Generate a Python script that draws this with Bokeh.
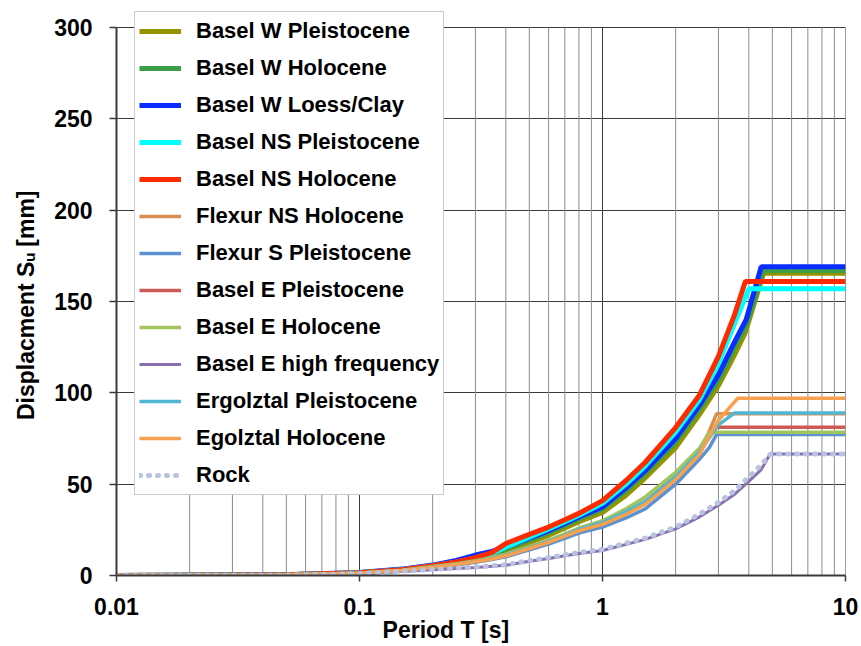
from bokeh.plotting import figure
from bokeh.models import FixedTicker, CustomJSTickFormatter, Legend
from bokeh.embed import file_html
from bokeh.resources import INLINE

# ---------------- data ----------------
T_MAIN = [0.01, 0.05, 0.1, 0.15, 0.2, 0.25, 0.3, 0.35, 0.4, 0.5, 0.6, 0.7, 0.8, 1.0, 1.25, 1.5, 2.0, 2.5, 3.0, 3.5]
T_LOW = [0.01, 0.05, 0.1, 0.15, 0.2, 0.25, 0.3, 0.35, 0.4, 0.5, 0.6, 0.7, 0.8, 1.0, 1.25, 1.5, 2.0, 2.5]
T_ROCK = [0.01, 0.05, 0.1, 0.2, 0.3, 0.4, 0.5, 0.6, 0.7, 0.8, 1.0, 1.5, 2.0, 2.5, 3.0, 3.5, 4.0, 4.5, 4.9, 10]

basel_w_pleist_T = T_MAIN + [3.87, 4.6, 10]
basel_w_pleist_S = [0.05, 0.4, 1.4, 3.0, 5.0, 6.9, 9.0, 11.0, 13.0, 18.0, 22.0, 26.0, 29.5, 34.5, 44.0, 53.5, 70.0, 88.0, 104.0, 121.0, 133.0, 165.5, 165.5]
basel_w_holo_T = T_MAIN + [3.9, 4.6, 10]
basel_w_holo_S = [0.05, 0.4, 1.5, 3.3, 5.3, 7.5, 10.0, 12.0, 14.5, 19.5, 23.5, 27.5, 31.0, 36.5, 46.5, 56.0, 73.0, 91.0, 107.0, 125.0, 137.0, 167.0, 167.0]
basel_w_loess_T = T_MAIN + [3.9, 4.5, 10]
basel_w_loess_S = [0.05, 0.4, 1.6, 3.5, 5.7, 8.3, 11.2, 13.2, 15.5, 20.5, 24.5, 28.5, 32.0, 37.5, 48.0, 57.5, 75.0, 93.0, 110.0, 128.0, 140.0, 169.0, 169.0]
basel_ns_pleist_T = T_MAIN + [4.0, 10]
basel_ns_pleist_S = [0.05, 0.4, 1.5, 3.2, 5.3, 7.3, 9.6, 12.0, 15.5, 21.0, 25.5, 29.5, 33.0, 39.5, 50.0, 60.0, 78.5, 96.0, 116.0, 138.0, 157.0, 157.0]
basel_ns_holo_T = T_MAIN + [3.87, 10]
basel_ns_holo_S = [0.05, 0.4, 1.5, 3.2, 5.4, 7.4, 9.8, 12.5, 17.5, 22.5, 26.5, 30.5, 34.0, 41.0, 52.0, 62.0, 81.0, 98.5, 120.0, 143.0, 161.0, 161.0]

flexur_ns_holo_T = T_LOW + [2.77, 2.95, 10]
flexur_ns_holo_S = [0.05, 0.35, 1.3, 2.7, 4.6, 6.1, 7.7, 9.2, 11.0, 15.0, 18.5, 21.8, 24.8, 28.0, 34.0, 39.5, 53.0, 67.0, 80.0, 88.6, 88.6]
flexur_s_pleist_T = T_LOW + [2.75, 2.95, 10]
flexur_s_pleist_S = [0.05, 0.3, 1.2, 2.5, 4.3, 5.7, 7.2, 8.7, 10.2, 14.0, 17.2, 20.3, 23.2, 26.5, 31.5, 36.5, 50.0, 63.5, 70.0, 77.2, 77.2]
basel_e_pleist_T = T_LOW + [2.9, 10]
basel_e_pleist_S = [0.05, 0.35, 1.3, 2.7, 4.6, 6.1, 7.7, 9.2, 11.2, 15.0, 18.6, 21.9, 25.0, 28.5, 34.5, 40.5, 54.0, 67.0, 81.2, 81.2]
basel_e_holo_T = T_LOW + [2.75, 10]
basel_e_holo_S = [0.05, 0.35, 1.35, 2.9, 4.9, 6.4, 8.1, 9.7, 11.7, 15.8, 19.4, 22.8, 26.0, 30.0, 36.5, 43.0, 56.5, 69.5, 78.4, 78.4]
basel_e_hf_T = T_ROCK
basel_e_hf_S = [0.02, 0.2, 1.0, 3.2, 4.4, 5.6, 7.8, 9.3, 10.8, 12.0, 13.7, 19.8, 25.5, 32.0, 38.5, 44.5, 51.5, 58.0, 66.5, 66.5]
ergolztal_pleist_T = T_LOW + [3.0, 3.5, 10]
ergolztal_pleist_S = [0.05, 0.35, 1.3, 2.7, 4.6, 6.1, 7.7, 9.2, 11.2, 15.2, 18.7, 22.0, 25.2, 29.0, 35.0, 40.5, 54.0, 67.5, 82.5, 89.0, 89.0]
egolztal_holo_T = T_LOW + [2.75, 3.0, 3.6, 10]
egolztal_holo_S = [0.05, 0.35, 1.3, 2.7, 4.5, 6.0, 7.6, 9.0, 10.8, 14.8, 18.2, 21.5, 24.5, 28.0, 33.5, 39.0, 52.5, 66.0, 76.0, 85.0, 97.0, 97.0]
rock_T = T_ROCK
rock_S = [0.02, 0.2, 1.0, 3.3, 4.6, 5.9, 8.2, 9.8, 11.3, 12.6, 14.3, 20.5, 26.5, 33.5, 40.0, 46.5, 54.0, 60.5, 66.5, 66.5]

series_names = ["Basel W Pleistocene", "Basel W Holocene", "Basel W Loess/Clay",
                "Basel NS Pleistocene", "Basel NS Holocene", "Flexur NS Holocene",
                "Flexur S Pleistocene", "Basel E Pleistocene", "Basel E Holocene",
                "Basel E high frequency", "Ergolztal Pleistocene", "Egolztal Holocene", "Rock"]
series_T = [basel_w_pleist_T, basel_w_holo_T, basel_w_loess_T, basel_ns_pleist_T, basel_ns_holo_T,
            flexur_ns_holo_T, flexur_s_pleist_T, basel_e_pleist_T, basel_e_holo_T, basel_e_hf_T,
            ergolztal_pleist_T, egolztal_holo_T, rock_T]
series_S = [basel_w_pleist_S, basel_w_holo_S, basel_w_loess_S, basel_ns_pleist_S, basel_ns_holo_S,
            flexur_ns_holo_S, flexur_s_pleist_S, basel_e_pleist_S, basel_e_holo_S, basel_e_hf_S,
            ergolztal_pleist_S, egolztal_holo_S, rock_S]

x_major_ticks = [0.01, 0.1, 1, 10]
x_minor_ticks = [0.02, 0.03, 0.04, 0.05, 0.06, 0.07, 0.08, 0.09,
                 0.2, 0.3, 0.4, 0.5, 0.6, 0.7, 0.8, 0.9,
                 2, 3, 4, 5, 6, 7, 8, 9]
y_major_ticks = [0, 50, 100, 150, 200, 250, 300]
Y_MAX = 300

x_title = "Period T [s]"
y_title = "Displacment S\u1d64 [mm]"

# ---------------- styles / layout ----------------
colors = ["#949400", "#3d9e47", "#0a2cff", "#00ffff", "#ff2a00", "#d8904f",
          "#5b92cf", "#cc5a55", "#a2c65d", "#8a70b0", "#4fb6d3", "#f9a04f", "#b7c3e0"]
widths = [5, 5, 5, 5, 5, 3.5, 3.5, 3.5, 3.5, 3, 3.5, 3.5, 5]
FONT = "Liberation Sans"
NBSP = "\u00a0"

W, H = 861, 646
LEFT, TOP_FRAME, RIGHT, BOTTOM = 116, 9, 16, 71
PLOT_TOP = 27          # pixel row of the 300 line
frame_h = H - TOP_FRAME - BOTTOM
y_end = Y_MAX * frame_h / (frame_h - (PLOT_TOP - TOP_FRAME))

p = figure(width=W, height=H, x_axis_type="log", x_range=(0.01, 10), y_range=(0, y_end),
           output_backend="svg", toolbar_location=None,
           min_border_left=LEFT, min_border_top=TOP_FRAME, min_border_right=RIGHT,
           min_border_bottom=BOTTOM)
p.outline_line_color = None
p.background_fill_color = "white"
p.border_fill_color = "white"

xt = FixedTicker(ticks=x_major_ticks, minor_ticks=x_minor_ticks)
p.xaxis.ticker = xt
yt = FixedTicker(ticks=y_major_ticks)
p.yaxis.ticker = yt
p.ygrid.ticker = yt
p.yaxis.bounds = (0, Y_MAX)
p.xaxis.formatter = CustomJSTickFormatter(code="return tick.toString();")
p.xgrid.visible = False

for ax in (p.xaxis, p.yaxis):
    ax.axis_line_color = "#3a3a3a"
    ax.axis_line_width = 2
    ax.major_tick_line_color = "#3a3a3a"
    ax.major_tick_line_width = 1.5
    ax.major_tick_in = 0
    ax.minor_tick_line_color = None
    ax.major_label_text_font = FONT
    ax.major_label_text_font_style = "bold"
    ax.major_label_text_font_size = "23px"
    ax.major_label_text_color = "black"
    ax.axis_label_text_font = FONT
    ax.axis_label_text_font_style = "bold"
    ax.axis_label_text_font_size = "23px"
    ax.axis_label_text_color = "black"
p.xaxis.major_tick_out = 6
p.yaxis.major_tick_out = 7
p.xaxis.major_label_standoff = 16
p.yaxis.major_label_standoff = 17
p.xaxis.axis_label = x_title + NBSP * 11
p.xaxis.axis_label_standoff = -1
p.yaxis.axis_label = y_title + NBSP * 4
p.yaxis.axis_label_standoff = 12

p.ygrid.grid_line_color = "#3a3a3a"
p.ygrid.grid_line_width = 1

# vertical grid lines, only up to the 300 line
p.segment(x0=x_minor_ticks, y0=[0] * len(x_minor_ticks), x1=x_minor_ticks, y1=[Y_MAX] * len(x_minor_ticks),
          line_color="#8c8c8c", line_width=1)
p.segment(x0=x_major_ticks, y0=[0] * len(x_major_ticks), x1=x_major_ticks, y1=[Y_MAX] * len(x_major_ticks),
          line_color="#3a3a3a", line_width=1)

items = []
for name, T, S, c, w in zip(series_names, series_T, series_S, colors, widths):
    if name == "Rock":
        r = p.line(T, S, line_color=c, line_width=w, line_dash="1 8", line_cap="round")
    else:
        r = p.line(T, S, line_color=c, line_width=w)
    items.append((name, [r]))

legend = Legend(items=items, location=(18, 80))
legend.label_text_font = FONT
legend.label_text_font_style = "bold"
legend.label_text_font_size = "22px"
legend.label_text_color = "black"
legend.glyph_width = 42
legend.glyph_height = 30
legend.label_height = 30
legend.label_standoff = 15
legend.spacing = 7
legend.padding = 4
legend.margin = 0
legend.border_line_color = "#999999"
legend.border_line_width = 1
legend.background_fill_color = "white"
legend.background_fill_alpha = 1
p.add_layout(legend)

open("out.html", "w").write(file_html(p, INLINE))
